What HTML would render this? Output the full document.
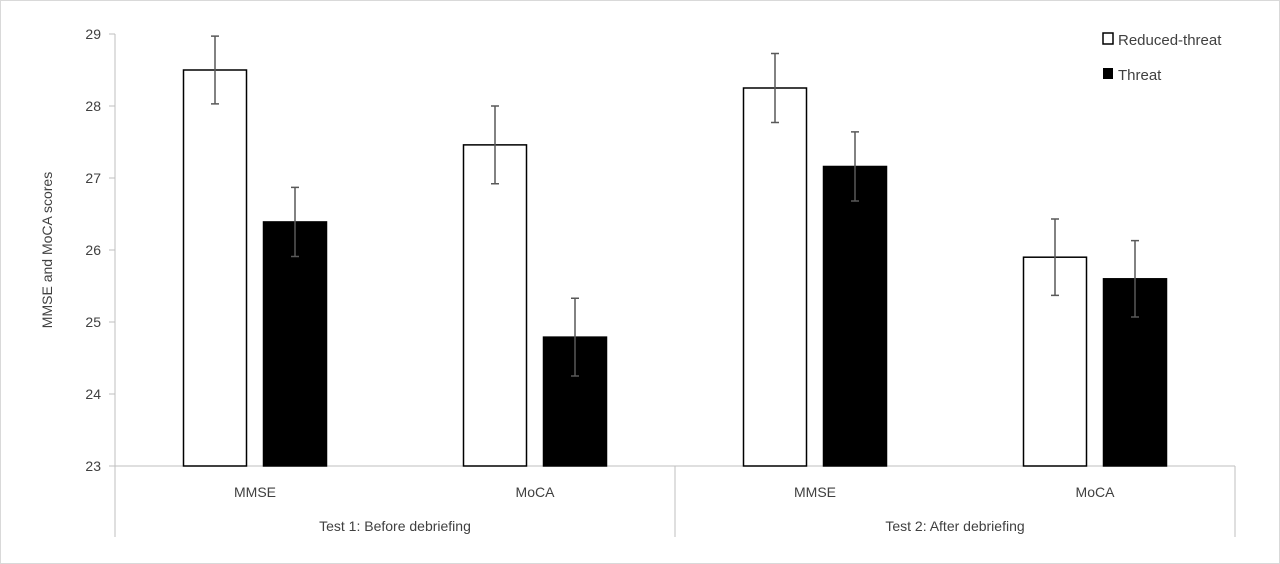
<!DOCTYPE html>
<html><head><meta charset="utf-8"><style>
html,body{margin:0;padding:0;background:#fff;}
svg{display:block;font-family:"Liberation Sans",sans-serif;}
</style></head><body>
<svg id="chart" width="1280" height="564" xmlns="http://www.w3.org/2000/svg">
<rect x="0.5" y="0.5" width="1279" height="563" fill="#fff" stroke="#d9d9d9"/>
<g id="plot"></g>
</svg>
<script>
const categories = ["MMSE","MoCA","MMSE","MoCA"];
const groups = ["Test 1: Before debriefing","Test 2: After debriefing"];
const reducedValues = [28.5, 27.46, 28.25, 25.9];
const reducedErrors = [0.47, 0.54, 0.48, 0.53];
const threatValues = [26.39, 24.79, 27.16, 25.6];
const threatErrors = [0.48, 0.54, 0.48, 0.53];
const yTicks = [23,24,25,26,27,28,29];

const NS="http://www.w3.org/2000/svg";
const g=document.getElementById('plot');
const x0=115,x1=1235,yTop=34,yBot=466,yMin=23,yMax=29;
const catW=(x1-x0)/categories.length;
function y(v){return yBot-(v-yMin)/(yMax-yMin)*(yBot-yTop);}
function xc(i){return x0+catW*(i+0.5);}
function mk(tag,attrs,text){const e=document.createElementNS(NS,tag);for(const k in attrs)e.setAttribute(k,attrs[k]);if(text!==undefined)e.textContent=text;g.appendChild(e);return e;}

// y axis
let e=mk('line',{x1:x0,y1:yTop,x2:x0,y2:yBot,stroke:'#bfbfbf'});


yTicks.forEach(t=>{
  let l=mk('line',{x1:x0-6,y1:y(t),x2:x0,y2:y(t),stroke:'#bfbfbf'});
  
  
  let tx=mk('text',{x:x0-14,y:y(t)+5,'text-anchor':'end','font-size':14,fill:'#404040'},t);
  
  
});
e=mk('text',{x:0,y:0,transform:'translate(52,250) rotate(-90)','text-anchor':'middle','font-size':14,fill:'#404040'},'MMSE and MoCA scores');


// x axis
e=mk('line',{x1:x0,y1:yBot,x2:x1,y2:yBot,stroke:'#bfbfbf'});


[0,1,2].forEach(k=>{
  let xx=x0+k*(x1-x0)/2;
  let l=mk('line',{x1:xx,y1:yBot,x2:xx,y2:537,stroke:'#bfbfbf'});
  
  
});
categories.forEach((c,i)=>{
  let t=mk('text',{x:xc(i),y:497,'text-anchor':'middle','font-size':14,fill:'#404040'},c);
  
  
});
groups.forEach((gname,k)=>{
  let t=mk('text',{x:x0+(k+0.5)*(x1-x0)/2,y:531,'text-anchor':'middle','font-size':14,fill:'#404040'},gname);
  
  
});
// bars
function bar(i,v,err,off,fill,name){
  const bx=xc(i)+off, bw=64;
  let r=mk('rect',{x:bx+0.5,y:y(v),width:bw-1,height:yBot-y(v),fill:fill,stroke:'#000','stroke-width':1.5});
  
  
  const cx=bx+bw/2;
  let eb=mk('path',{d:`M${cx},${y(v+err)}V${y(v-err)}M${cx-4},${y(v+err)}H${cx+4}M${cx-4},${y(v-err)}H${cx+4}`,stroke:'#595959','stroke-width':1.5,fill:'none'});
  
  
}
categories.forEach((c,i)=>{
  bar(i,reducedValues[i],reducedErrors[i],-72,'#fff','bar-reduced-threat');
  bar(i,threatValues[i],threatErrors[i],8,'#000','bar-threat');
});
// legend
e=mk('rect',{x:1103,y:33,width:10,height:11,fill:'#fff',stroke:'#000','stroke-width':1.5});


e=mk('text',{x:1118,y:45,'font-size':15,fill:'#404040'},'Reduced-threat');


e=mk('rect',{x:1103,y:68,width:10,height:11,fill:'#000'});


e=mk('text',{x:1118,y:80,'font-size':15,fill:'#404040'},'Threat');


</script>
</body></html>
